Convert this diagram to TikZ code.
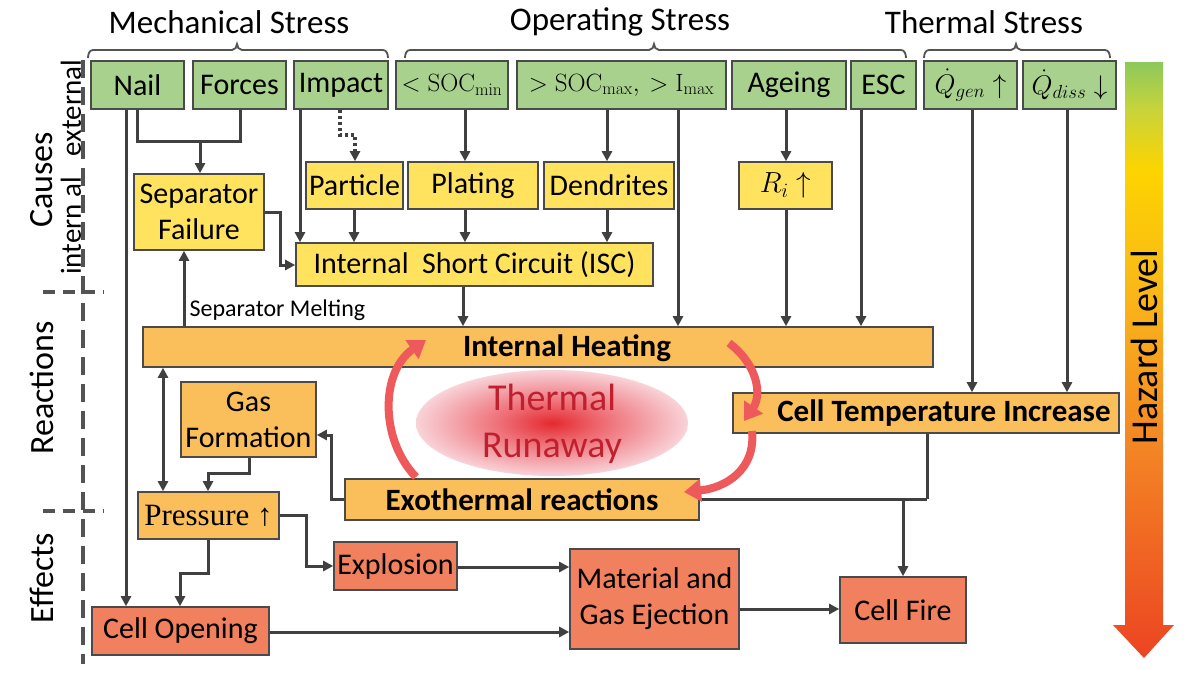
\RequirePackage{fix-cm}
\documentclass[tikz,border=0pt]{standalone}
\usepackage[no-math]{fontspec}
\setmainfont{Carlito}
\newfontfamily\serifb{Liberation Serif}
\usetikzlibrary{arrows.meta,calc}
\definecolor{gfill}{HTML}{A9D18E}
\definecolor{yfill}{HTML}{FFE35F}
\definecolor{ofill}{HTML}{FABE5A}
\definecolor{rfill}{HTML}{F0805E}
\definecolor{boxline}{HTML}{4A4A4A}
\definecolor{cline}{HTML}{404040}
\definecolor{redarrow}{HTML}{EE5A5C}
\definecolor{hzgreen}{HTML}{8CC85C}
\definecolor{hzyg}{HTML}{C8D43A}
\definecolor{hzyellow}{HTML}{FDD400}
\definecolor{hzyorange}{HTML}{FAB818}
\definecolor{hzorange}{HTML}{F48A24}
\definecolor{hzred}{HTML}{EC4422}
\definecolor{trc}{HTML}{E42A2E}
\definecolor{trm}{HTML}{EE6A72}
\definecolor{tre}{HTML}{F8D3D8}
\definecolor{trtext}{HTML}{C0202E}
\pgfdeclareverticalshading{hazard}{100bp}{color(0bp)=(hzred); color(25bp)=(hzred); color(44bp)=(hzorange); color(56bp)=(hzyorange); color(66bp)=(hzyellow); color(71bp)=(hzyg); color(75bp)=(hzgreen); color(100bp)=(hzgreen)}
\pgfdeclareradialshading{trshade}{\pgfpoint{0bp}{0bp}}{color(0bp)=(trc); color(9bp)=(trm); color(25bp)=(tre); color(50bp)=(tre)}
\newcommand\placebox[6]{\node[#1, minimum width={(#4)-(#2)}, minimum height={(#5)-(#3)}] (#6) at ({((#2)+(#4))/2},{((#3)+(#5))/2})}
\begin{document}
\begin{tikzpicture}[x=1pt,y=-1pt,
  box/.style={draw=boxline, line width=1.6pt, inner sep=1pt, align=center, text=black, font=\fontsize{30}{36}\selectfont},
  gbox/.style={box, fill=gfill},
  ybox/.style={box, fill=yfill},
  obox/.style={box, fill=ofill},
  rbox/.style={box, fill=rfill},
  conn/.style={draw=cline, line width=3pt, -{Triangle[length=10pt,width=10pt]}},
  plain/.style={draw=cline, line width=3pt},
  dotconn/.style={draw=cline, line width=3.2pt, dash pattern=on 3pt off 3pt, -{Triangle[length=10pt,width=10pt]}},
  redarr/.style={draw=redarrow, line width=8pt, -{Triangle[length=17pt,width=22pt]}},
  brace/.style={draw=cline!90, line width=1.8pt},
  title/.style={font=\fontsize{33}{38}\selectfont, text=black},
  side/.style={font=\fontsize{34}{38}\selectfont, rotate=90, text=black},
  sidesmall/.style={font=\fontsize{29}{34}\selectfont, rotate=90, text=black},
  sep/.style={draw=cline!90, line width=3.2pt, dash pattern=on 18pt off 9pt},
  bold/.style={font=\bfseries\fontsize{31}{36}\selectfont, text=black}
]
\useasboundingbox (0,0) rectangle (1200,675);
\fill[white] (0,0) rectangle (1200,675);

% titles and braces
\node[title] (tmech) at (229,22) {Mechanical Stress};
\node[title] (toper) at (620,22) {Operating Stress};
\node[title] (ttherm) at (984,22) {Thermal Stress};
\draw[brace] (88,58) to[out=90,in=180] (93,50) -- (232,50) to[out=0,in=-90] (237,44) to[out=-90,in=180] (242,50) -- (383,50) to[out=0,in=90] (388,58);
\draw[brace] (405,58) to[out=90,in=180] (410,50) -- (649,50) to[out=0,in=-90] (654,44) to[out=-90,in=180] (659,50) -- (901,50) to[out=0,in=90] (906,58);
\draw[brace] (924,58) to[out=90,in=180] (929,50) -- (1011,50) to[out=0,in=-90] (1016,44) to[out=-90,in=180] (1021,50) -- (1105,50) to[out=0,in=90] (1110,58);

% side labels and separators
\node[side] (lcauses) at (42,180) {Causes};
\node[sidesmall] (lext) at (71,108) {external};
\node[sidesmall] (lint) at (71,226) {intern al};
\node[side] (lreact) at (42,388) {Reactions};
\node[side] (leff) at (42,578) {Effects};
\draw[sep] (83,60) -- (83,664);
\draw[sep, dash pattern=on 12pt off 8pt] (43,292) -- (104,292);
\draw[sep, dash pattern=on 12pt off 8pt] (43,511) -- (104,511);

% hazard bar
\shade[shading=hazard] (1125,62) -- (1163,62) -- (1163,625) -- (1174,625) -- (1144,658) -- (1113,625) -- (1125,625) -- cycle;
\node[font=\fontsize{38}{44}\selectfont, rotate=90] (hazard) at (1144,347) {Hazard Level};

% green boxes
\placebox{gbox}{91}{61}{184}{109}{nail} {Nail};
\placebox{gbox}{193}{61}{286}{109}{forces} {Forces};
\placebox{gbox}{294}{61}{388}{109}{impact} {Impact};
\placebox{gbox}{396}{61}{508}{109}{socmin} {\fontsize{25}{30}\selectfont$<\mathrm{SOC_{min}}$};
\placebox{gbox}{517}{61}{726}{109}{socmax} {\fontsize{25}{30}\selectfont$>\mathrm{SOC_{max}},\ >\mathrm{I_{max}}$};
\placebox{gbox}{732}{61}{846}{109}{ageing} {Ageing};
\placebox{gbox}{851}{61}{916}{109}{esc} {ESC};
\placebox{gbox}{924}{61}{1017}{109}{qgen} {\fontsize{27}{30}\selectfont$\dot{Q}_{gen}\uparrow$};
\placebox{gbox}{1023}{61}{1116}{109}{qdiss} {\fontsize{27}{30}\selectfont$\dot{Q}_{diss}\downarrow$};

% yellow boxes
\placebox{ybox}{134}{174}{264}{250}{sepf} {Separator\\Failure};
\placebox{ybox}{306}{162}{403}{209}{particle} {Particle};
\placebox{ybox}{408}{162}{538}{209}{plating} {Plating};
\placebox{ybox}{544}{162}{674}{209}{dendrites} {Dendrites};
\placebox{ybox}{739}{162}{832}{209}{ri} {\fontsize{29}{32}\selectfont$R_i\uparrow$};
\placebox{ybox}{296}{243}{653}{286}{isc} {Internal\ \ Short Circuit (ISC)};

% orange boxes
\placebox{obox}{143}{327}{933}{367}{ih} {};
\node[bold] (ihtext) at (567,348) {Internal Heating};
\placebox{obox}{181}{382}{316}{457}{gas} {Gas\\Formation};
\placebox{obox}{138}{492}{279}{539}{pressure} {\serifb\fontsize{31}{36}\selectfont Pressure ↑};
\placebox{obox}{345}{479}{699}{520}{exo} {\bfseries\fontsize{31}{36}\selectfont Exothermal reactions};
\placebox{obox}{733}{393}{1119}{433}{ct} {};
\node[bold] (cttext) at (944,413) {Cell Temperature Increase};

% red boxes
\placebox{rbox}{92}{607}{269}{655}{cellopen} {Cell Opening};
\placebox{rbox}{334}{542}{457}{590}{explosion} {Explosion};
\placebox{rbox}{570}{549}{739}{649}{mge} {Material and\\Gas Ejection};
\placebox{rbox}{840}{577}{966}{643}{fire} {Cell Fire};

% helper coordinates
\coordinate (b1) at (137,141); \coordinate (b2) at (240,141); \coordinate (b3) at (200,141);
\coordinate (xnail) at (126,0);
\coordinate (ximp) at (300,0);
\coordinate (d1) at (340,135); \coordinate (d2) at (355,135);
\coordinate (s1) at (280,212); \coordinate (s2) at (280,265);
\coordinate (xpar) at (354,0);
\coordinate (xpl) at (465,0);
\coordinate (xden) at (607,0);
\coordinate (ximax) at (678,0);
\coordinate (xage) at (786,0);
\coordinate (xesc) at (861,0);
\coordinate (xqg) at (972,0);
\coordinate (xqd) at (1067,0);
\coordinate (xisc) at (463,0);
\coordinate (xmelt) at (184,0);
\coordinate (xpr) at (163,0);
\coordinate (g1) at (249,473); \coordinate (g2) at (208,473);
\coordinate (h1) at (331,499); \coordinate (h2) at (331,435);
\coordinate (p1) at (306,515); \coordinate (p2) at (306,566);
\coordinate (q1) at (208,573); \coordinate (q2) at (180,573);
\coordinate (yexp) at (0,567);
\coordinate (ycell) at (0,632);
\coordinate (ymge) at (0,609);
\coordinate (e1) at (927,499); \coordinate (e2) at (903,499);

% connectors
\draw[plain] (nail.south -| b1) -- (b1) -- (b2) -- (forces.south -| b2);
\draw[conn] (b3) -- (sepf.north -| b3);
\draw[conn] (nail.south -| xnail) -- (cellopen.north -| xnail);
\draw[conn] (impact.south -| ximp) -- (isc.north -| ximp);
\draw[dotconn] (impact.south -| d1) -- (d1) -- (d2) -- (particle.north -| d2);
\draw[conn] (sepf.east |- s1) -- (s1) -- (s2) -- (isc.west |- s2);
\draw[conn] (particle.south -| xpar) -- (isc.north -| xpar);
\draw[conn] (socmin.south -| xpl) -- (plating.north -| xpl);
\draw[conn] (plating.south -| xpl) -- (isc.north -| xpl);
\draw[conn] (socmax.south -| xden) -- (dendrites.north -| xden);
\draw[conn] (dendrites.south -| xden) -- (isc.north -| xden);
\draw[conn] (socmax.south -| ximax) -- (ih.north -| ximax);
\draw[conn] (ageing.south -| xage) -- (ri.north -| xage);
\draw[conn] (ri.south -| xage) -- (ih.north -| xage);
\draw[conn] (esc.south -| xesc) -- (ih.north -| xesc);
\draw[conn] (qgen.south -| xqg) -- (ct.north -| xqg);
\draw[conn] (qdiss.south -| xqd) -- (ct.north -| xqd);
\draw[conn] (isc.south -| xisc) -- (ih.north -| xisc);
\draw[conn] (ih.north -| xmelt) -- (sepf.south -| xmelt);
\node[anchor=west, font=\fontsize{24}{28}\selectfont] (melt) at (186,310) {Separator Melting};
\draw[conn, {Triangle[length=10pt,width=10pt]}-{Triangle[length=10pt,width=10pt]}] (ih.south -| xpr) -- (pressure.north -| xpr);
\draw[conn] (gas.south -| g1) -- (g1) -- (g2) -- (pressure.north -| g2);
\draw[conn] (exo.west |- h1) -- (h1) -- (h2) -- (gas.east |- h2);
\draw[conn] (pressure.east |- p1) -- (p1) -- (p2) -- (explosion.west |- p2);
\draw[conn] (pressure.south -| q1) -- (q1) -- (q2) -- (cellopen.north -| q2);
\draw[conn] (explosion.east |- yexp) -- (mge.west |- yexp);
\draw[conn] (cellopen.east |- ycell) -- (mge.west |- ycell);
\draw[conn] (mge.east |- ymge) -- (fire.west |- ymge);
\draw[plain] (exo.east |- e1) -- (e1);
\draw[plain] (ct.south -| e1) -- (e1);
\draw[conn] (e2) -- (fire.north -| e2);

% thermal runaway
\shade[shading=trshade] (552,423) ellipse [x radius=136, y radius=53];
\node[text=trtext, align=center, font=\fontsize{38}{47}\selectfont] (tr) at (552,424) {Thermal\\Runaway};
\coordinate (ra1) at (416,477); \coordinate (ra2) at (426,340);
\coordinate (rb1) at (729,343); \coordinate (rb2) at (744,421);
\coordinate (rc1) at (752,431); \coordinate (rc2) at (684,492);
\draw[redarr] (ra1) .. controls (380,440) and (380,372) .. (ra2);
\draw[redarr] (rb1) .. controls (758,365) and (762,395) .. (rb2);
\draw[redarr] (rc1) .. controls (756,470) and (725,488) .. (rc2);
\end{tikzpicture}
\end{document}
